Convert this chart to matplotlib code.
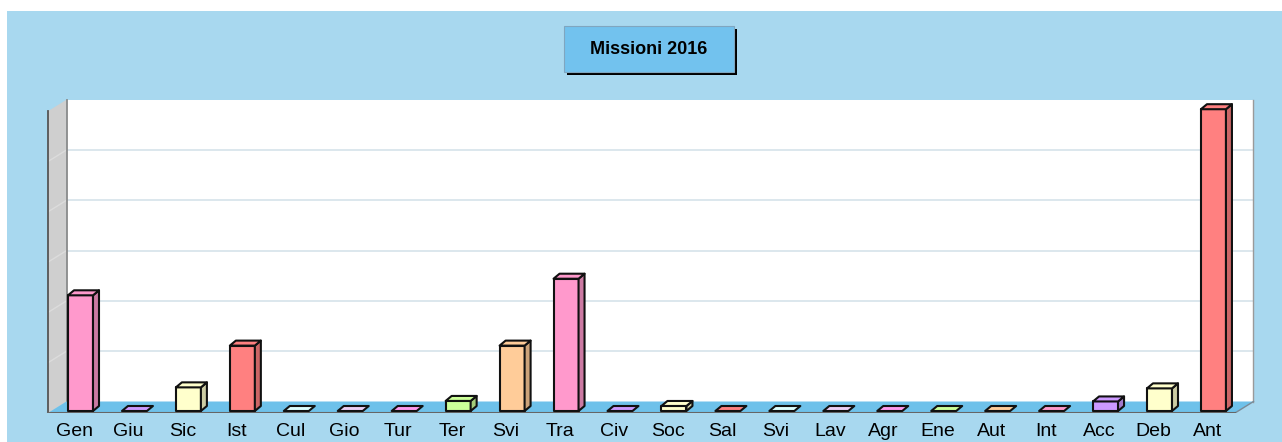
import matplotlib.pyplot as plt
from matplotlib.patches import Polygon, Rectangle
import numpy as np

# categories and values (unit: one gridline = 10)
categories = ['Gen', 'Giu', 'Sic', 'Ist', 'Cul', 'Gio', 'Tur', 'Ter', 'Svi', 'Tra', 'Civ',
              'Soc', 'Sal', 'Svi', 'Lav', 'Agr', 'Ene', 'Aut', 'Int', 'Acc', 'Deb', 'Ant']
values = [23, 0, 4.7, 13, 0, 0, 0, 2, 13, 26.3, 0,
          1, 0, 0, 0, 0, 0, 0, 0, 1.9, 4.5, 60]
palette = ['#FF99CC', '#CC99FF', '#FFFFCC', '#FF8080', '#DDFFFF',
           '#ECCFF5', '#FF99EE', '#CCFF99', '#FFCC99']
title = 'Missioni 2016'
y_max = 60
grid_step = 10

W, H = 1282, 442
BG = '#A8D8EF'
FLOOR = '#6EC1EA'

fig = plt.figure(figsize=(W / 100, H / 100), dpi=100)
fig.patch.set_facecolor('white')

def fx(px):
    return px / W

def fy(py):
    return 1 - py / H

# light blue panel (white margin left/top)
fig.patches.append(Rectangle((fx(7), 0), 1 - fx(7), fy(11), transform=fig.transFigure,
                             facecolor=BG, edgecolor='none', zorder=-1))

# pixel scale of the plotting area
x0_px, x_step = 74.5, 53.95     # pixel of category 0, pixels per category
base_px, v_step = 411, 5.03     # pixel of value 0 (bar front base), pixels per unit
ax_l, ax_r, ax_t, ax_b = 40, 1265, 90, 413
ax = fig.add_axes([fx(ax_l), fy(ax_b), (ax_r - ax_l) / W, (ax_b - ax_t) / H])
ax.set_zorder(1)
ax.set_xlim((ax_l - x0_px) / x_step, (ax_r - x0_px) / x_step)
ax.set_ylim((base_px - ax_b) / v_step, (base_px - ax_t) / v_step)
ax.patch.set_visible(False)
for s in ax.spines.values():
    s.set_visible(False)

def px2dx(p):
    return p / x_step

def px2dy(p):
    return p / v_step

# floor geometry
n = len(categories)
fl_front = px2dy(-2)                 # floor front edge
fl_left = px2dx(48 - x0_px)
fl_right = px2dx(1235 - x0_px)
ddx, ddy = px2dx(18.5), px2dy(11.5)  # floor depth vector
wall_bot = fl_front + ddy
wall_top = wall_bot + y_max

# back wall
ax.add_patch(Polygon([(fl_left + ddx, wall_bot), (fl_right + ddx, wall_bot),
                      (fl_right + ddx, wall_top), (fl_left + ddx, wall_top)],
                     closed=True, facecolor='white', edgecolor='none', zorder=1))
for g in np.arange(grid_step, y_max, grid_step):
    ax.plot([fl_left + ddx, fl_right + ddx], [wall_bot + g, wall_bot + g],
            color='#D5E3EA', lw=1.2, zorder=2)
    ax.plot([fl_left, fl_left + ddx], [fl_front + g, wall_bot + g],
            color='#DCDCDC', lw=1.0, zorder=3)
ax.plot([fl_right + ddx, fl_right + ddx], [wall_bot, wall_top], color='#9A9A9A', lw=1, zorder=2)

# left wall
ax.add_patch(Polygon([(fl_left, fl_front), (fl_left + ddx, wall_bot),
                      (fl_left + ddx, wall_top), (fl_left, wall_top - ddy)],
                     closed=True, facecolor='#CFCFCF', edgecolor='none', zorder=2))
ax.plot([fl_left + ddx, fl_left + ddx], [wall_bot, wall_top], color='#8A8A8A', lw=1.3, zorder=3)
ax.plot([fl_left, fl_left], [fl_front, wall_top - ddy], color='#555555', lw=1.3, zorder=3)

# floor
ax.add_patch(Polygon([(fl_left, fl_front), (fl_right, fl_front),
                      (fl_right + ddx, wall_bot), (fl_left + ddx, wall_bot)],
                     closed=True, facecolor=FLOOR, edgecolor='none', zorder=3))
ax.plot([fl_right, fl_right + ddx], [fl_front, wall_bot], color='#7A8A96', lw=1, zorder=4)
ax.plot([fl_left, fl_right], [fl_front, fl_front], color='#666666', lw=1.5, zorder=4)

# 3D bars
bw = px2dx(25)
bdx, bdy = px2dx(6), px2dy(5)
shift = px2dx(6)

def darker(c, f=0.8):
    r, g, b = [int(c[i:i + 2], 16) / 255 for i in (1, 3, 5)]
    return (r * f, g * f, b * f)

for i, v in enumerate(values):
    c = palette[i % len(palette)]
    xa = i + shift - bw / 2
    xb = i + shift + bw / 2
    z = 5 + i * 0.01
    kw = dict(closed=True, edgecolor='#111111', lw=1.5, joinstyle='round', zorder=z)
    if v > 0:
        ax.add_patch(Polygon([(xa, 0), (xb, 0), (xb, v), (xa, v)], facecolor=c, **kw))
        ax.add_patch(Polygon([(xb, 0), (xb + bdx, bdy), (xb + bdx, v + bdy), (xb, v)],
                             facecolor=darker(c), **kw))
    ax.add_patch(Polygon([(xa, v), (xb, v), (xb + bdx, v + bdy), (xa + bdx, v + bdy)],
                         facecolor=c, **kw))

ax.set_xticks(range(n))
ax.set_xticklabels(categories, fontsize=14, family='Liberation Sans')
ax.tick_params(axis='x', length=0, pad=7)
ax.set_yticks([])

# title box with shadow
bx0, bx1, by0, by1 = 564, 734, 26, 72
fig.patches.append(Rectangle((fx(bx0 + 3), fy(by1 + 3)), fx(bx1 - bx0), fy(by0) - fy(by1),
                             transform=fig.transFigure, facecolor='black', edgecolor='none', zorder=5))
fig.patches.append(Rectangle((fx(bx0), fy(by1)), fx(bx1 - bx0), fy(by0) - fy(by1),
                             transform=fig.transFigure, facecolor='#72C2EE', edgecolor='#7FA6C0',
                             lw=0.8, zorder=6))
fig.text(fx((bx0 + bx1) / 2), fy((by0 + by1) / 2), title, ha='center', va='center',
         fontsize=13, fontweight='bold', family='Liberation Sans', zorder=7)

fig.savefig('out.png', dpi=100)
